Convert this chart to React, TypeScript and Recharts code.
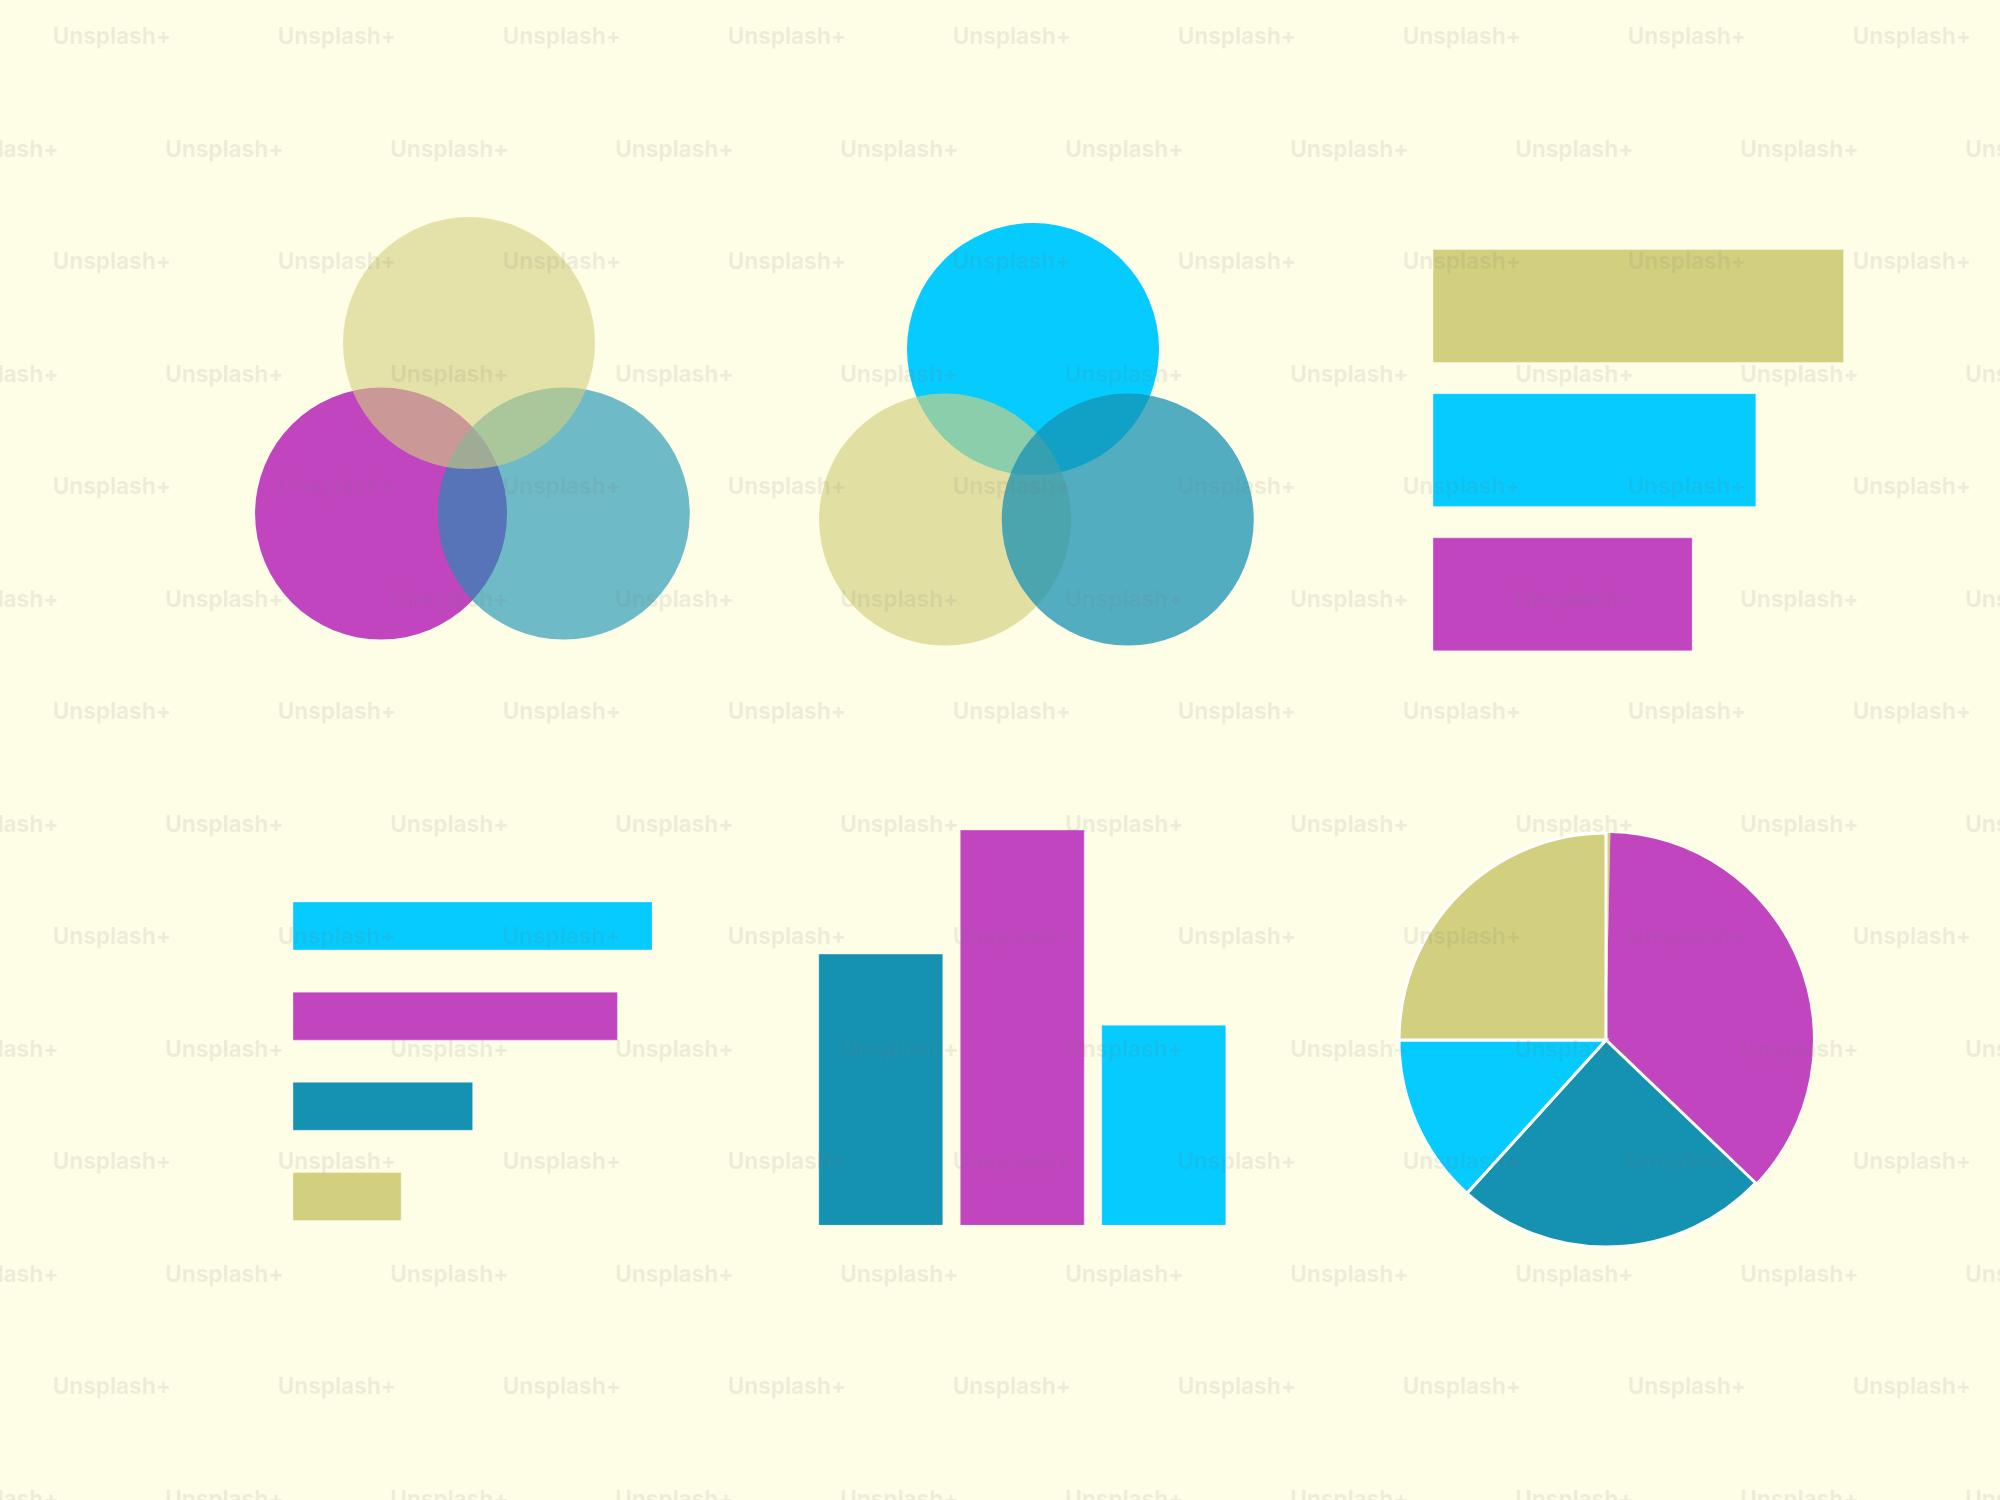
import { Bar, BarChart, Cell, Pie, PieChart, Scatter, ScatterChart, XAxis, YAxis } from "recharts";

const BG = "#FEFDE6";
const KHAKI = "#D2D07F";
const CYAN = "#05CBFE";
const MAGENTA = "#C045BF";
const TEAL = "#1591B2";

// venn circle centres, measured in circle radii
const VENN_SETS = ["top", "left", "right"];
const VENN_X = [0, -0.698, 0.752];
const VENN_Y = [1.353, 0, 0];

// draw order + look of each venn
const VENN1_ORDER = ["left", "right", "top"];
const VENN1_COLORS = [MAGENTA, TEAL, KHAKI];
const VENN1_OPACITY = [1, 0.62, 0.6];

const VENN2_ORDER = ["top", "left", "right"];
const VENN2_COLORS = [CYAN, KHAKI, TEAL];
const VENN2_OPACITY = [1, 0.65, 0.74];

// top right: horizontal bars
const HBAR1_CATS = ["a", "b", "c"];
const HBAR1_VALUES = [100, 78.6, 63.1];
const HBAR1_COLORS = [KHAKI, CYAN, MAGENTA];

// bottom left: horizontal bars
const HBAR2_CATS = ["a", "b", "c", "d"];
const HBAR2_VALUES = [100, 90.3, 50.0, 30.1];
const HBAR2_COLORS = [CYAN, MAGENTA, TEAL, KHAKI];

// bottom middle: columns
const COL_CATS = ["a", "b", "c"];
const COL_VALUES = [68.6, 100, 50.6];
const COL_COLORS = [TEAL, MAGENTA, CYAN];

// pie, values in degrees, clockwise from 12 o'clock
const PIE_CATS = ["e", "a", "b", "c", "d"];
const PIE_VALUES = [1.2, 132.5, 88.5, 47.8, 90];
const PIE_COLORS = [KHAKI, MAGENTA, TEAL, CYAN, KHAKI];
const PIE_STROKE = [false, false, true, true, true];

const R = 126; // venn radius in px
const VX: [number, number] = [-2, 2];
const VY: [number, number] = [-1.2, 2.6];

function Venn({ left, top, order, colors, opacity }: {
  left: number; top: number; order: string[]; colors: string[]; opacity: number[];
}) {
  const w = (VX[1] - VX[0]) * R;
  const h = (VY[1] - VY[0]) * R;
  return (
    <div style={{ position: "absolute", left, top }}>
      <ScatterChart width={w} height={h} margin={{ top: 0, right: 0, bottom: 0, left: 0 }}>
        <XAxis type="number" dataKey="x" domain={VX} allowDataOverflow hide />
        <YAxis type="number" dataKey="y" domain={VY} allowDataOverflow hide />
        {order.map((set, i) => {
          const k = VENN_SETS.indexOf(set);
          return (
            <Scatter
              key={set}
              data={[{ x: VENN_X[k], y: VENN_Y[k] }]}
              isAnimationActive={false}
              shape={(p: any) => (
                <circle cx={p.cx} cy={p.cy} r={R} fill={colors[i]} fillOpacity={opacity[i]} />
              )}
            />
          );
        })}
      </ScatterChart>
    </div>
  );
}

function HBars({ left, top, width, height, gap, cats, values, colors }: {
  left: number; top: number; width: number; height: number; gap: string;
  cats: string[]; values: number[]; colors: string[];
}) {
  const data = cats.map((c, i) => ({ name: c, v: values[i] }));
  return (
    <div style={{ position: "absolute", left, top }}>
      <BarChart width={width} height={height} data={data} layout="vertical"
        barCategoryGap={gap} margin={{ top: 0, right: 0, bottom: 0, left: 0 }}>
        <XAxis type="number" domain={[0, 100]} allowDataOverflow hide />
        <YAxis type="category" dataKey="name" hide />
        <Bar dataKey="v" isAnimationActive={false} stroke="#ffffff" strokeOpacity={0.35} strokeWidth={1}>
          {data.map((_, i) => <Cell key={i} fill={colors[i]} />)}
        </Bar>
      </BarChart>
    </div>
  );
}

// tiled "Unsplash+" watermark laid over everything
function Watermark() {
  const items = [];
  for (let r = 0; r < 14; r++) {
    for (let c = -1; c < 10; c++) {
      const x = 52.7 + c * 225 + (r % 2 ? -112.5 : 0);
      items.push(
        <text key={`${r}-${c}`} x={x} y={44.3 + r * 112.5}>Unsplash+</text>
      );
    }
  }
  return (
    <svg width={2000} height={1500}
      style={{ position: "absolute", left: 0, top: 0, pointerEvents: "none" }}>
      <g fontFamily="Inter, 'Open Sans', sans-serif" fontWeight={700} fontSize={22.5}
        fill="rgb(120,120,120)" fillOpacity={0.12}>
        {items}
      </g>
    </svg>
  );
}

export default function App() {
  const colData = COL_CATS.map((c, i) => ({ name: c, v: COL_VALUES[i] }));
  const pieData = PIE_CATS.map((c, i) => ({ name: c, v: PIE_VALUES[i] }));
  return (
    <div style={{ position: "absolute", left: 0, top: 0, width: 2000, height: 1500, background: BG, overflow: "hidden" }}>
      <Venn left={217} top={186.4} order={VENN1_ORDER} colors={VENN1_COLORS} opacity={VENN1_OPACITY} />
      <Venn left={780.5} top={191.9} order={VENN2_ORDER} colors={VENN2_COLORS} opacity={VENN2_OPACITY} />

      <HBars left={1433} top={233.9} width={410.7} height={432.6} gap="10.7%"
        cats={HBAR1_CATS} values={HBAR1_VALUES} colors={HBAR1_COLORS} />
      <HBars left={292.7} top={881} width={359.3} height={360.8} gap="23.2%"
        cats={HBAR2_CATS} values={HBAR2_VALUES} colors={HBAR2_COLORS} />

      <div style={{ position: "absolute", left: 810, top: 830 }}>
        <BarChart width={424.5} height={395.3} data={colData} barCategoryGap="6.2%"
          margin={{ top: 0, right: 0, bottom: 0, left: 0 }}>
          <XAxis type="category" dataKey="name" hide />
          <YAxis type="number" domain={[0, 100]} allowDataOverflow hide />
          <Bar dataKey="v" isAnimationActive={false} stroke="#ffffff" strokeOpacity={0.35} strokeWidth={1}>
            {colData.map((_, i) => <Cell key={i} fill={COL_COLORS[i]} />)}
          </Bar>
        </BarChart>
      </div>

      <div style={{ position: "absolute", left: 1386, top: 819.5 }}>
        <PieChart width={440} height={440} margin={{ top: 0, right: 0, bottom: 0, left: 0 }}>
          <Pie data={pieData} dataKey="v" nameKey="name" cx="50%" cy="50%"
            outerRadius={207} startAngle={90} endAngle={-270}
            isAnimationActive={false}>
            {pieData.map((_, i) => (
              <Cell key={i} fill={PIE_COLORS[i]}
                stroke={PIE_STROKE[i] ? "#ffffff" : "none"} strokeWidth={3} />
            ))}
          </Pie>
        </PieChart>
      </div>

      <Watermark />
    </div>
  );
}
